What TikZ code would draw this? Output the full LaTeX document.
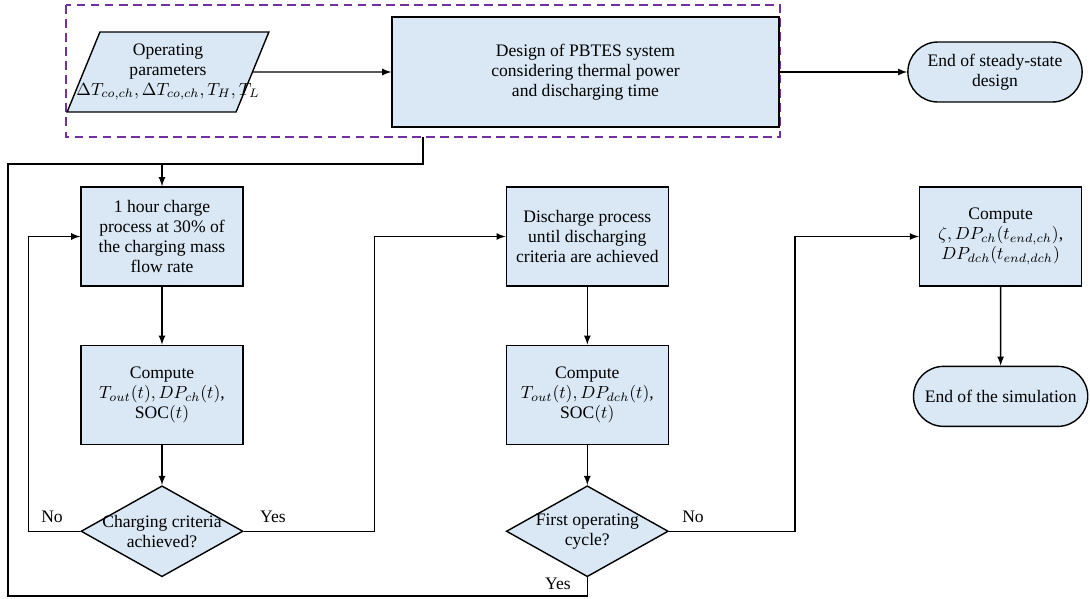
\documentclass[tikz,border=0pt]{standalone}
\usepackage{fontspec}
\setmainfont{Liberation Serif}
\usetikzlibrary{positioning,shapes.geometric,shapes.misc}
\definecolor{boxfill}{RGB}{218,232,245}
\definecolor{dashpurple}{RGB}{112,48,160}

\begin{document}
\begin{tikzpicture}[x=0.02cm,y=-0.02cm,>=latex,line width=0.8pt,
    font=\fontsize{10}{11.4}\selectfont,
    procbox/.style = {rectangle, draw=black, fill=boxfill, align=center, minimum width=3.24cm, minimum height=1.98cm, inner sep=2pt},
    decnode/.style = {diamond, aspect=1.78, draw=black, fill=boxfill, align=center, minimum width=3.24cm, minimum height=1.82cm, inner sep=0pt},
    termnode/.style = {rounded rectangle, draw=black, fill=boxfill, align=center, minimum width=3.72cm, minimum height=1.2cm},
    ionode/.style = {trapezium, trapezium left angle=63, trapezium right angle=117, trapezium stretches=true, draw=black, fill=boxfill, align=center, minimum width=4.04cm, minimum height=1.6cm, inner sep=0pt}]
     \useasboundingbox (0,0) rectangle (1090,599);

     % steady-state design
     \draw[dashpurple, line width=1pt, dash pattern=on 5pt off 3pt] (66,5) rectangle (780,137);
     \coordinate (tap) at (423,137);
     \node[ionode] (param) at (168,72) {Operating\\parameters\\\makebox[2.4cm][c]{$\Delta T_{co,ch}, \Delta T_{co,ch}, T_H, T_L$}};
     \node[procbox, minimum width=7.74cm, minimum height=2.2cm] (design) at (585.5,72) {Design of PBTES system\\considering thermal power\\and discharging time};
     \node[termnode] (endss) at (995,72) {End of steady-state\\design};

     % charge / discharge loop
     \node[procbox] (charge) at (162,236.5) {1 hour charge\\process at 30\% of\\the charging mass\\flow rate};
     \node[procbox] (comp1) [below=1.16cm of charge] {Compute\\$T_{out}(t), DP_{ch}(t)$,\\SOC$(t)$};
     \node[decnode] (dec1) [below=0.8cm of comp1] {\makebox[1.4cm][c]{Charging criteria}\\achieved?};
     \node[procbox] (dis) [right=5.24cm of charge] {Discharge process\\until discharging\\criteria are achieved};
     \node[procbox] (comp2) [below=1.16cm of dis] {Compute\\$T_{out}(t), DP_{dch}(t)$,\\SOC$(t)$};
     \node[decnode] (dec2) [below=0.8cm of comp2] {\makebox[1.4cm][c]{First operating}\\cycle?};
     \node[procbox] (comp3) [right=5.0cm of dis] {Compute\\$\zeta, DP_{ch}(t_{end,ch})$,\\$DP_{dch}(t_{end,dch})$};
     \node[termnode] (endsim) [below=1.58cm of comp3] {End of the simulation};
     \coordinate (jn) at (162,164);
     \coordinate (looptl) at (8,164);
     \coordinate (loopbl) at (8,596);

     \node (no1) at (52,517) {No};
     \node (yes1) at (273,517) {Yes};
     \node (no2) at (693,517) {No};
     \node (yes2) at (558,584) {Yes};

     \draw[->] (param.east) -- (design.west);
     \draw[->] (design) -- (endss);
     \draw (dec2.south) |- (loopbl) -- (looptl) -| (tap);
     \draw[->] (jn) -- (charge);
     \draw[->] (charge) -- (comp1);
     \draw[->] (comp1) -- (dec1);
     \draw[->] (dec1.west) -- ++(-52,0) |- (charge.west);
     \draw[->] (dec1.east) -- ++(131,0) |- (dis.west);
     \draw[->] (dis) -- (comp2);
     \draw[->] (comp2) -- (dec2);
     \draw[->] (dec2.east) -- ++(126,0) |- (comp3.west);
     \draw[->] (comp3) -- (endsim);
\end{tikzpicture}
\end{document}
